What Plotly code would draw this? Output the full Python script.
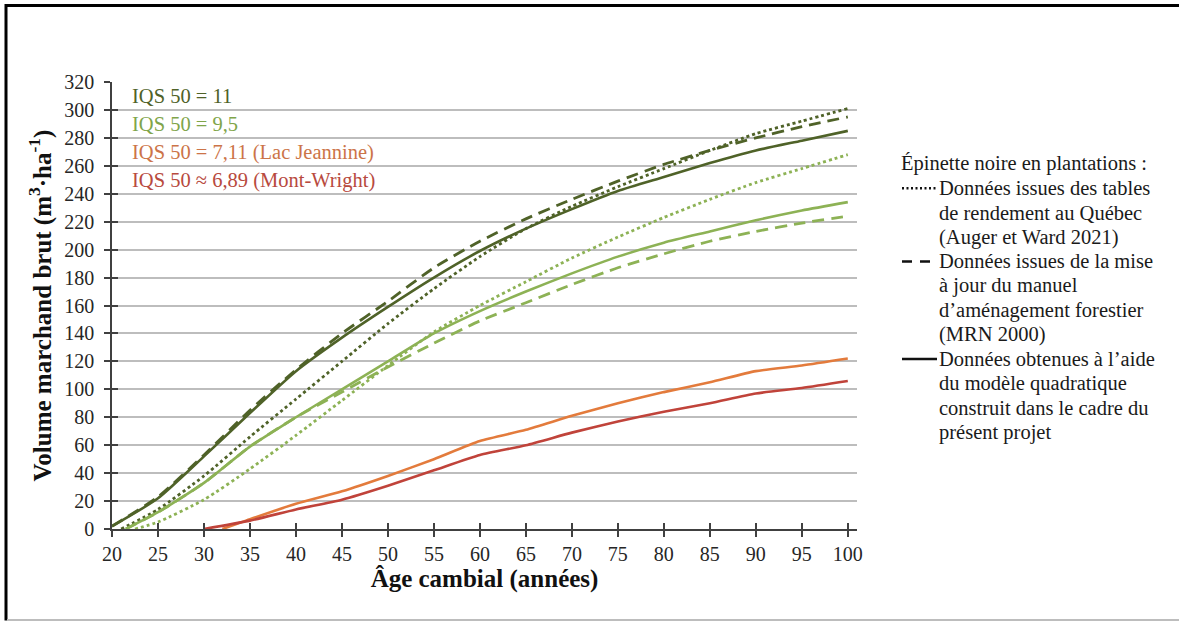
import plotly.graph_objects as go

# ---------------- data ----------------
ages = [20, 25, 30, 35, 40, 45, 50, 55, 60, 65, 70, 75, 80, 85, 90, 95, 100]

# IQS 50 = 11
iqs11_model_x = ages
iqs11_model_y = [2, 22, 52, 83, 113, 137, 159, 180, 199, 215, 229, 242, 252, 262, 271, 278, 285]
iqs11_mrn_x = ages
iqs11_mrn_y = [2, 23, 53, 85, 114, 140, 163, 187, 206, 222, 236, 249, 261, 271, 280, 288, 295]
iqs11_auger_x = [21] + ages[1:]
iqs11_auger_y = [0, 14, 38, 66, 93, 120, 147, 172, 195, 215, 231, 245, 258, 271, 283, 292, 301]

# IQS 50 = 9,5
iqs95_model_x = [21.5] + ages[1:]
iqs95_model_y = [0, 12, 33, 59, 80, 100, 120, 140, 156, 170, 183, 195, 205, 213, 221, 228, 234]
iqs95_mrn_x = [21.5] + ages[1:]
iqs95_mrn_y = [0, 12, 33, 59, 80, 98, 116, 133, 149, 162, 175, 187, 197, 206, 213, 219, 224]
iqs95_auger_x = [22.5] + ages[1:]
iqs95_auger_y = [0, 5, 21, 43, 67, 92, 117, 141, 160, 177, 194, 209, 223, 236, 248, 258, 268]

# IQS 50 = 7,11 (Lac Jeannine)
lac_x = [32] + ages[3:]
lac_y = [0, 7, 18, 27, 38, 50, 63, 71, 81, 90, 98, 105, 113, 117, 122]

# IQS 50 ~ 6,89 (Mont-Wright)
mont_x = ages[2:]
mont_y = [0, 6, 14, 21, 31, 42, 53, 60, 69, 77, 84, 90, 97, 101, 106]

y_ticks = list(range(0, 321, 20))
x_ticks = list(range(20, 101, 5))

group_labels = ["IQS 50 = 11", "IQS 50 = 9,5", "IQS 50 = 7,11 (Lac Jeannine)",
                "IQS 50 \u2248 6,89 (Mont-Wright)"]
legend_title = "\u00c9pinette noire en plantations :"
legend_items = [
    ["Donn\u00e9es issues des tables", "de rendement au Qu\u00e9bec", "(Auger et Ward 2021)"],
    ["Donn\u00e9es issues de la mise", "\u00e0 jour du manuel", "d\u2019am\u00e9nagement forestier", "(MRN 2000)"],
    ["Donn\u00e9es obtenues \u00e0 l\u2019aide", "du mod\u00e8le quadratique",
     "construit dans le cadre du", "pr\u00e9sent projet"],
]

# ---------------- styles ----------------
DARK = "#4f6228"
LIGHT = "#8db255"
LIGHT_TXT = "#7fa54a"
ORANGE = "#e37b3c"
ORANGE_TXT = "#cc7448"
RED = "#c0433a"
RED_TXT = "#b84a3e"
FONT = "Liberation Serif, Times New Roman, serif"
DOT = "3px,3px"
DASH = "12px,7px"

W, H = 1179, 622
L, R = 112, 857          # plot area in pixels
T, B = 82, 529.5


def px(xp):
    return (xp - L) / (R - L)


def py(yp):
    return (B - yp) / (B - T)


fig = go.Figure()


def add(x, y, color, dash, width, name):
    fig.add_trace(go.Scatter(x=x, y=y, mode="lines", name=name, showlegend=False,
                             line=dict(color=color, width=width, dash=dash,
                                       shape="spline", smoothing=0.6),
                             hoverinfo="x+y+name"))


# dotted (Auger et Ward 2021)
add(iqs11_auger_x, iqs11_auger_y, DARK, DOT, 2.8, "IQS 11 - Auger et Ward 2021")
add(iqs95_auger_x, iqs95_auger_y, LIGHT, DOT, 2.8, "IQS 9,5 - Auger et Ward 2021")
# dashed (MRN 2000)
add(iqs11_mrn_x, iqs11_mrn_y, DARK, DASH, 2.8, "IQS 11 - MRN 2000")
add(iqs95_mrn_x, iqs95_mrn_y, LIGHT, DASH, 2.8, "IQS 9,5 - MRN 2000")
# solid (model)
add(iqs11_model_x, iqs11_model_y, DARK, "solid", 2.6, "IQS 11 - mod\u00e8le")
add(iqs95_model_x, iqs95_model_y, LIGHT, "solid", 2.6, "IQS 9,5 - mod\u00e8le")
add(lac_x, lac_y, ORANGE, "solid", 2.6, "Lac Jeannine")
add(mont_x, mont_y, RED, "solid", 2.6, "Mont-Wright")

# helper trace for the overlay axes carrying the inner half of the tick marks
fig.add_trace(go.Scatter(x=[x_ticks[0]], y=[y_ticks[0]], xaxis="x2", yaxis="y2",
                         mode="markers", marker=dict(opacity=0), showlegend=False,
                         hoverinfo="skip"))

axis_col = "#404040"
fig.update_layout(
    width=W, height=H,
    margin=dict(l=L, r=W - R, t=T, b=H - B, autoexpand=False),
    paper_bgcolor="white", plot_bgcolor="white",
    font=dict(family=FONT, size=20, color="#262626"),
    xaxis=dict(range=[20, 101], tickvals=x_ticks, ticks="outside", ticklen=6,
               tickwidth=1.5, tickcolor=axis_col, showline=True, linecolor=axis_col,
               linewidth=1.5, showgrid=False, zeroline=False,
               tickfont=dict(family=FONT, size=20, color="#262626"),
               ticklabelstandoff=0,
               title=dict(text="<b>\u00c2ge cambial (ann\u00e9es)</b>",
                          font=dict(family=FONT, size=25, color="#111"), standoff=6)),
    yaxis=dict(range=[0, 320], tickvals=y_ticks, ticks="outside", ticklen=6,
               tickwidth=1.5, tickcolor=axis_col, showline=True, linecolor=axis_col,
               linewidth=1.5, showgrid=True, gridcolor="#bdbdbd", gridwidth=2,
               zeroline=False,
               tickfont=dict(family=FONT, size=20, color="#262626"),
               ticklabelstandoff=6,
               title=dict(text="<b>Volume marchand brut (m<sup>3</sup>\u00b7ha<sup>-1</sup>)</b>",
                          font=dict(family=FONT, size=25, color="#111"), standoff=6)),
    xaxis2=dict(overlaying="x", range=[20, 101], tickvals=x_ticks, ticks="inside",
                ticklen=6, tickwidth=1.5, tickcolor=axis_col, showticklabels=False,
                showline=False, showgrid=False, zeroline=False, side="bottom"),
    yaxis2=dict(overlaying="y", range=[0, 320], tickvals=y_ticks, ticks="inside",
                ticklen=6, tickwidth=1.5, tickcolor=axis_col, showticklabels=False,
                showline=False, showgrid=False, zeroline=False, side="left"),
    showlegend=False,
)

ann = []
# group labels (top-left)
for i, (txt, col) in enumerate(zip(group_labels, [DARK, LIGHT_TXT, ORANGE_TXT, RED_TXT])):
    ann.append(dict(x=px(130), y=py(96 + i * 28.3), xref="paper", yref="paper",
                    text=txt, showarrow=False, xanchor="left", yanchor="middle",
                    font=dict(family=FONT, size=20.5, color=col)))

# custom legend on the right
line_h = 24.4
y0 = 164
LEG_FS = 20.5
ann.append(dict(x=px(899), y=py(y0), xref="paper", yref="paper", text=legend_title,
                showarrow=False, xanchor="left", yanchor="middle",
                font=dict(family=FONT, size=LEG_FS, color="#1a1a1a")))
shapes = []
k = 1
sample_dash = {"dot": "2px,2.5px", "dash": "10px,8px", "solid": "solid"}
for item, dsh in zip(legend_items, ["dot", "dash", "solid"]):
    yy = y0 + k * line_h
    shapes.append(dict(type="line", xref="paper", yref="paper",
                       x0=px(902), x1=px(937), y0=py(yy), y1=py(yy),
                       line=dict(color="#111", width=2.5, dash=sample_dash[dsh])))
    for ln in item:
        ann.append(dict(x=px(937), y=py(y0 + k * line_h), xref="paper", yref="paper",
                        text=ln, showarrow=False, xanchor="left", yanchor="middle",
                        font=dict(family=FONT, size=LEG_FS, color="#1a1a1a")))
        k += 1

# outer frame of the figure
shapes.append(dict(type="line", xref="paper", yref="paper", x0=px(6), x1=px(6),
                   y0=py(4), y1=py(621), line=dict(color="black", width=3)))
shapes.append(dict(type="line", xref="paper", yref="paper", x0=px(5), x1=px(1179),
                   y0=py(5.5), y1=py(5.5), line=dict(color="black", width=3)))
shapes.append(dict(type="line", xref="paper", yref="paper", x0=px(7), x1=px(1179),
                   y0=py(620.5), y1=py(620.5), line=dict(color="#bdbdbd", width=2)))

fig.update_layout(annotations=ann, shapes=shapes)
fig.write_html("out.html", config={"displayModeBar": False},
               post_script="document.body.style.margin='0px';"
                           "document.documentElement.style.overflow='hidden';")
